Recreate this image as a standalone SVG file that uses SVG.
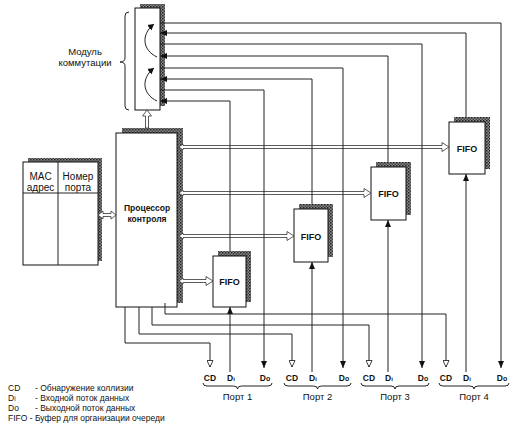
<svg xmlns="http://www.w3.org/2000/svg" width="515" height="431" viewBox="0 0 515 431">
<defs>
<pattern id="stip" width="3" height="3" patternUnits="userSpaceOnUse">
<rect width="3" height="3" fill="#8a8a8a"/>
<rect width="1.5" height="1.5" fill="#222"/>
<rect x="1.5" y="1.5" width="1.5" height="1.5" fill="#444"/>
</pattern>
<marker id="fa" markerUnits="userSpaceOnUse" markerWidth="7" markerHeight="6" refX="7" refY="3" orient="auto">
<path d="M0,0 L7,3 L0,6 Z" fill="#111"/>
</marker>
<marker id="ha" markerUnits="userSpaceOnUse" markerWidth="8" markerHeight="7" refX="7" refY="3.5" orient="auto">
<path d="M0.5,0.5 L7,3.5 L0.5,6.5 Z" fill="#fff" stroke="#111" stroke-width="0.8"/>
</marker>
<marker id="oa" markerUnits="userSpaceOnUse" markerWidth="8" markerHeight="8" refX="6" refY="4" orient="auto">
<path d="M0,0.5 L6,4 L0,7.5 Z" fill="#111"/>
</marker>
</defs>
<style>
.box{fill:#fff;stroke:#111;stroke-width:1}
.sh{fill:url(#stip)}
.ln{fill:none;stroke:#222;stroke-width:1}
.dbl{fill:#fff;stroke:#333;stroke-width:0.8}
.t{font-family:"Liberation Sans",Arial,sans-serif;fill:#111}
.b{font-weight:bold}
.br{fill:none;stroke:#222;stroke-width:1}
</style>

<g id="switch-module">
<rect class="sh" x="140" y="4" width="25" height="102"/>
<rect class="box" x="135" y="8" width="25" height="102"/>
<path class="ln" d="M157,57 C142,50 141,34 154,24" marker-end="url(#oa)"/>
<path class="ln" d="M157,101 C142,94 141,78 154,68" marker-end="url(#oa)"/>
<path class="br" d="M129,12 Q125,12 125,16 L125,58 Q125,62 120,62 Q125,62 125,66 L125,106 Q125,110 129,110"/>
<text class="t" x="85" y="55" font-size="9.5" text-anchor="middle">Модуль</text>
<text class="t" x="85" y="66" font-size="9.5" text-anchor="middle">коммутации</text>
</g>

<g id="mac-table">
<rect class="sh" x="28" y="158" width="74" height="103"/>
<rect class="box" x="23" y="162" width="75" height="103"/>
<line class="ln" x1="58" y1="162" x2="58" y2="265"/>
<line class="ln" x1="23" y1="193" x2="98" y2="193"/>
<text class="t" x="40.5" y="180" font-size="10" text-anchor="middle">MAC</text>
<text class="t" x="40.5" y="191" font-size="10" text-anchor="middle">адрес</text>
<text class="t" x="78" y="180" font-size="10" text-anchor="middle">Номер</text>
<text class="t" x="78" y="191" font-size="10" text-anchor="middle">порта</text>
</g>

<g id="processor">
<rect class="sh" x="122" y="128" width="61" height="175"/>
<rect class="box" x="116" y="133" width="61" height="174"/>
<text class="t b" x="147" y="211" font-size="8.5" text-anchor="middle">Процессор</text>
<text class="t b" x="147" y="222" font-size="8.5" text-anchor="middle">контроля</text>
</g>

<g id="fifo1">
<rect class="sh" x="218" y="251" width="33" height="51"/>
<rect class="box" x="213" y="256" width="33" height="51"/>
<text class="t b" x="229.5" y="285" font-size="9" text-anchor="middle">FIFO</text>
</g>
<g id="fifo2">
<rect class="sh" x="299" y="204" width="34" height="53"/>
<rect class="box" x="294" y="209" width="34" height="53"/>
<text class="t b" x="311" y="239.5" font-size="9" text-anchor="middle">FIFO</text>
</g>
<g id="fifo3">
<rect class="sh" x="376" y="162" width="35" height="53"/>
<rect class="box" x="371" y="167" width="35" height="53"/>
<text class="t b" x="388.5" y="197" font-size="9" text-anchor="middle">FIFO</text>
</g>
<g id="fifo4">
<rect class="sh" x="454" y="117" width="36" height="52"/>
<rect class="box" x="449" y="122" width="36" height="52"/>
<text class="t b" x="467" y="151.5" font-size="9" text-anchor="middle">FIFO</text>
</g>

<g id="connectors">
<path class="dbl" d="M147,110 L151.5,116 L148.5,116 L148.5,128 L145.5,128 L145.5,116 L142.5,116 Z"/>
<path class="dbl" d="M98,215 L103,211 L103,213.5 L111,213.5 L111,211 L116,215 L111,219 L111,216.5 L103,216.5 L103,219 Z"/>
<path class="dbl" d="M179,147 L183,144 L183,145.5 L442,145.5 L442,142.5 L449,147 L442,151.5 L442,148.5 L183,148.5 L183,150 Z"/>
<path class="dbl" d="M179,193 L183,190 L183,191.5 L364,191.5 L364,188.5 L371,193 L364,197.5 L364,194.5 L183,194.5 L183,196 Z"/>
<path class="dbl" d="M179,236 L183,233 L183,234.5 L287,234.5 L287,231.5 L294,236 L287,240.5 L287,237.5 L183,237.5 L183,239 Z"/>
<path class="dbl" d="M179,281 L183,278 L183,279.5 L206,279.5 L206,276.5 L213,281 L206,285.5 L206,282.5 L183,282.5 L183,284 Z"/>
<path class="ln" d="M160,23 H501 V368" marker-end="url(#fa)"/>
<path class="ln" d="M160,44 H422 V368" marker-end="url(#fa)"/>
<path class="ln" d="M160,68 H343 V368" marker-end="url(#fa)"/>
<path class="ln" d="M160,90 H264 V368" marker-end="url(#fa)"/>
<path class="ln" d="M466,117 V33 H160" marker-end="url(#fa)"/>
<path class="ln" d="M388,162 V56 H160" marker-end="url(#fa)"/>
<path class="ln" d="M312,204 V79 H160" marker-end="url(#fa)"/>
<path class="ln" d="M230,251 V101 H160" marker-end="url(#fa)"/>
<path class="ln" d="M230,372 V307" marker-end="url(#fa)"/>
<path class="ln" d="M312,372 V262" marker-end="url(#fa)"/>
<path class="ln" d="M388,372 V220" marker-end="url(#fa)"/>
<path class="ln" d="M466,372 V174" marker-end="url(#fa)"/>
<path class="ln" d="M125,307 V343 H210 V367" marker-end="url(#ha)"/>
<path class="ln" d="M139,307 V334 H292 V367" marker-end="url(#ha)"/>
<path class="ln" d="M152,307 V325 H369 V367" marker-end="url(#ha)"/>
<path class="ln" d="M165,303 V314 H446 V367" marker-end="url(#ha)"/>
</g>

<g id="ports">
<g class="t b" font-size="8.5" text-anchor="middle">
<text x="210" y="381">CD</text><text x="231" y="381">D<tspan font-size="6">i</tspan></text><text x="265" y="381">D<tspan font-size="7">o</tspan></text>
<text x="292" y="381">CD</text><text x="313" y="381">D<tspan font-size="6">i</tspan></text><text x="344" y="381">D<tspan font-size="7">o</tspan></text>
<text x="369" y="381">CD</text><text x="389" y="381">D<tspan font-size="6">i</tspan></text><text x="423" y="381">D<tspan font-size="7">o</tspan></text>
<text x="446" y="381">CD</text><text x="467" y="381">D<tspan font-size="6">i</tspan></text><text x="502" y="381">D<tspan font-size="7">o</tspan></text>
</g>
<path class="br" d="M203,383 Q203,386 207,386 L233.5,386 Q237.5,386 237.5,389 Q237.5,386 241.5,386 L268,386 Q272,386 272,383"/>
<path class="br" d="M284,383 Q284,386 288,386 L313.5,386 Q317.5,386 317.5,389 Q317.5,386 321.5,386 L347,386 Q351,386 351,383"/>
<path class="br" d="M361,383 Q361,386 365,386 L391,386 Q395,386 395,389 Q395,386 399,386 L425,386 Q429,386 429,383"/>
<path class="br" d="M439,383 Q439,386 443,386 L470,386 Q474,386 474,389 Q474,386 478,386 L505,386 Q509,386 509,383"/>
<g class="t" font-size="9.5" text-anchor="middle">
<text x="237.5" y="400">Порт 1</text>
<text x="317.5" y="400">Порт 2</text>
<text x="395" y="400">Порт 3</text>
<text x="474" y="400">Порт 4</text>
</g>
</g>

<g id="legend" class="t" font-size="8.5">
<text x="8" y="391">CD</text><text x="35" y="391">- Обнаружение коллизии</text>
<text x="8" y="401">D<tspan font-size="6.5">i</tspan></text><text x="35" y="401">- Входной поток данных</text>
<text x="8" y="411">Do</text><text x="35" y="411">- Выходной поток данных</text>
<text x="8" y="421">FIFO - Буфер для организации очереди</text>
</g>
</svg>
